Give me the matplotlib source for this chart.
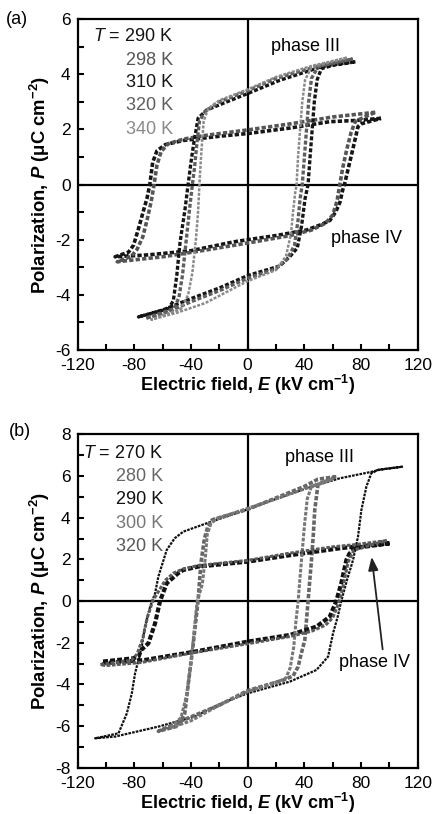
import matplotlib
matplotlib.use("Agg")
import matplotlib.pyplot as plt
from matplotlib.ticker import MultipleLocator

plt.rcParams["font.family"] = ["Liberation Sans", "DejaVu Sans"]
plt.rcParams["axes.unicode_minus"] = False
plt.rcParams["mathtext.fontset"] = "custom"
plt.rcParams["mathtext.rm"] = "Liberation Sans"
plt.rcParams["mathtext.it"] = "Liberation Sans:italic"
plt.rcParams["mathtext.bf"] = "Liberation Sans:bold"
plt.rcParams["mathtext.bfit"] = "Liberation Sans:italic:bold"

# ---- panel (a): hysteresis loops, E (kV/cm) and P (uC/cm2) ----
a_temps = ["290 K", "298 K", "310 K", "320 K", "340 K"]
a_colors = ["#151515", "#555555", "#151515", "#5e5e5e", "#8a8a8a"]

a290_E = [94, 75, 58, 30, 0, -20, -45, -58, -64, -67, -69, -71, -73.5, -77, -80.5, -84, -93.5,
          -70, -40, -10, 0, 20, 41.5, 52, 58, 62, 65, 67, 68.5, 71, 74, 77.8, 80, 94]
a290_P = [2.40, 2.32, 2.28, 2.05, 1.85, 1.75, 1.60, 1.45, 1.22, 0.8, 0.0, -0.5, -0.95, -1.6, -2.2, -2.45, -2.62,
          -2.55, -2.40, -2.08, -2.0, -1.85, -1.65, -1.45, -1.30, -1.0, -0.65, -0.2, 0.05, 0.6, 1.25, 2.1, 2.2, 2.40]

a298_E = [90, 60, 30, 0, -30, -45, -56, -61, -64, -66, -68, -71, -74, -78, -82, -92,
          -60, -30, 0, 30, 45, 55, 60, 63, 65, 67, 70, 73, 76, 90]
a298_P = [2.62, 2.45, 2.2, 1.98, 1.78, 1.65, 1.48, 1.2, 0.7, 0.0, -0.6, -1.3, -1.9, -2.35, -2.6, -2.8,
          -2.62, -2.38, -2.12, -1.85, -1.65, -1.4, -1.1, -0.6, 0.0, 0.6, 1.3, 1.9, 2.3, 2.62]

a310_E = [76, 60, 50.8, 22.7, 0, -17, -29, -35, -38, -40, -42, -44.2, -47.7, -50, -52.4, -55.6, -77,
          -60, -40.7, -20, 0, 22.7, 30, 35, 38, 40.5, 42.6, 44, 45.5, 47, 49, 52, 60, 76]
a310_P = [4.45, 4.35, 4.25, 3.78, 3.3, 2.95, 2.7, 2.4, 1.5, 0.8, 0.0, -0.9, -2.1, -3.3, -4.2, -4.5, -4.8,
          -4.55, -4.15, -3.75, -3.3, -2.95, -2.6, -2.3, -1.5, -0.5, 0.0, 1.0, 2.0, 3.0, 3.8, 4.2, 4.32, 4.45]

a320_E = [74, 50, 20, 0, -20, -30, -34, -36, -37.5, -39, -41, -43.5, -46, -48.5, -52, -72,
          -55, -40, -20, 0, 20, 28, 33, 35.5, 37, 38.5, 40, 41.5, 43, 45, 50, 74]
a320_P = [4.55, 4.3, 3.85, 3.4, 3.0, 2.65, 2.3, 1.4, 0.6, 0.0, -0.9, -2.1, -3.3, -4.1, -4.5, -4.85,
          -4.6, -4.25, -3.85, -3.4, -3.05, -2.7, -2.2, -1.3, -0.5, 0.0, 1.0, 2.0, 3.0, 3.85, 4.3, 4.55]

a340_E = [70, 45, 20, 0, -20, -28, -31, -32.5, -33.5, -34, -35, -36.5, -39, -42, -47, -68,
          -50, -30, 0, 20, 27, 30.5, 32, 33.5, 34.5, 35.5, 37, 38.5, 40.5, 45, 70]
a340_P = [4.6, 4.3, 3.9, 3.45, 3.05, 2.75, 2.3, 1.3, 0.5, 0.0, -1.0, -2.0, -3.2, -4.0, -4.5, -4.9,
          -4.65, -4.3, -3.5, -3.1, -2.6, -1.8, -1.0, -0.3, 0.0, 1.0, 2.0, 3.0, 3.8, 4.25, 4.6]

# ---- panel (b) ----
b_temps = ["270 K", "280 K", "290 K", "300 K", "320 K"]
b_colors = ["#111111", "#666666", "#111111", "#777777", "#5a5a5a"]

b270_E = [109.5, 93, 87.2, 80, 64.9, 41.5, 20, 0, -25.7, -45.4, -51.5, -57.1, -63, -65.3, -68.8, -72.4, -74.7,
          -79.4, -81.7, -85.2, -91.1, -107.6,
          -93.7, -63, -37.4, -18.6, 0, 29.7, 48.5, 56.7, 60.2, 63.5, 66, 70, 74.3, 77.8, 80.2, 83.7, 87.2, 92, 109.5]
b270_P = [6.45, 6.3, 6.2, 6.1, 5.89, 5.41, 4.9, 4.4, 3.81, 3.33, 3.01, 2.45, 1.17, 0.37, -0.27, -1.23, -2.19,
          -3.47, -4.43, -5.39, -6.35, -6.59,
          -6.51, -6.03, -5.55, -4.91, -4.43, -3.87, -3.31, -2.67, -1.55, -0.75, 0.0, 1.0, 1.97, 3.09, 4.37, 5.49, 6.13, 6.3, 6.45]

b280_E = [62.5, 49.6, 40, 20, 0, -25, -28, -30.5, -33, -35, -36.8, -38.6, -40.5, -42.1, -44.4, -49, -63,
          -45, -20, 0, 25, 32, 35.6, 37.5, 40.3, 41.5, 42.6, 43.8, 45, 46.3, 47.3, 49.6, 62.5]
b280_P = [5.97, 5.85, 5.5, 4.95, 4.4, 3.9, 3.6, 3.0, 1.8, 0.0, -1.1, -2.2, -3.2, -4.1, -5.4, -6.0, -6.25,
          -5.7, -5.0, -4.3, -3.8, -3.6, -3.15, -2.6, -1.87, -0.9, 0.0, 1.0, 1.97, 3.2, 4.37, 5.6, 5.97]

b290_E = [100, 74.3, 64.9, 30, 0, -35, -45.4, -49.1, -57.1, -61.8, -65.3, -70, -75, -77, -80.8, -102.8,
          -102, -72.6, -37.4, 0, 29.7, 48.5, 57.9, 62.5, 66, 69.6, 71.9, 76.6, 100]
b290_P = [2.77, 2.6, 2.53, 2.2, 1.89, 1.65, 1.49, 1.33, 0.85, 0.0, -1.07, -2.03, -2.35, -2.67, -2.75, -2.91,
          -2.99, -2.83, -2.43, -1.95, -1.63, -1.23, -0.75, 0.0, 0.85, 1.97, 2.29, 2.55, 2.77]

b300_E = [60, 45, 20, 0, -22, -26, -28.5, -30, -32, -35.6, -38, -40, -43, -47, -55,
          -40, -20, 0, 22, 27, 30, 32.5, 34, 35.6, 37, 38.5, 40, 42, 45, 60]
b300_P = [5.85, 5.5, 4.9, 4.45, 3.95, 3.7, 3.2, 2.0, 0.8, 0.0, -1.6, -3.0, -4.5, -5.6, -6.1,
          -5.75, -5.0, -4.35, -3.85, -3.7, -3.2, -2.2, -1.0, 0.0, 1.2, 2.4, 3.6, 4.9, 5.5, 5.85]

b320_E = [98, 75, 60, 30, 0, -35, -45, -52, -58, -63, -67, -70.8, -74, -78, -82, -104,
          -100, -75, -40, 0, 30, 45, 55, 60, 63, 66, 68.5, 71, 75, 98]
b320_P = [2.9, 2.7, 2.6, 2.3, 1.95, 1.7, 1.55, 1.35, 1.0, 0.45, 0.0, -0.8, -1.8, -2.55, -2.85, -3.05,
          -3.1, -2.95, -2.5, -2.05, -1.7, -1.45, -1.15, -0.8, -0.3, 0.3, 1.1, 1.9, 2.45, 2.9]

a_loops = [(a290_E, a290_P), (a298_E, a298_P), (a310_E, a310_P), (a320_E, a320_P), (a340_E, a340_P)]
b_loops = [(b270_E, b270_P), (b280_E, b280_P), (b290_E, b290_P), (b300_E, b300_P), (b320_E, b320_P)]
a_widths = [2.6, 2.6, 2.4, 2.4, 1.8]
b_widths = [1.6, 2.6, 3.0, 2.2, 2.2]

fig = plt.figure(figsize=(4.33, 8.14), dpi=100)
ax_a = fig.add_axes([0.179, 0.570, 0.786, 0.4066])
ax_b = fig.add_axes([0.179, 0.0569, 0.786, 0.4095])


def style_axes(ax, ylim, ymajor):
    ax.set_xlim(-120, 120)
    ax.set_ylim(*ylim)
    ax.xaxis.set_major_locator(MultipleLocator(40))
    ax.xaxis.set_minor_locator(MultipleLocator(20))
    ax.yaxis.set_major_locator(MultipleLocator(ymajor))
    ax.yaxis.set_minor_locator(MultipleLocator(1))
    ax.tick_params(which="both", direction="in", top=False, right=False,
                   length=4.5, width=1.5, labelsize=12.5)
    ax.tick_params(axis="x", pad=6)
    ax.tick_params(axis="y", pad=5)
    for s in ax.spines.values():
        s.set_linewidth(1.6)
    ax.axhline(0, color="black", lw=1.6, zorder=1)
    ax.axvline(0, color="black", lw=1.6, zorder=1)
    ax.set_xlabel(r"Electric field, $\mathbfit{E}$ (kV cm$^{\mathbf{-1}}$)",
                  fontsize=13, fontweight="bold", labelpad=0)
    ax.set_ylabel(r"Polarization, $\mathbfit{P}$ (μC cm$^{\mathbf{-2}}$)",
                  fontsize=13.3, fontweight="bold", labelpad=2)


style_axes(ax_a, (-6, 6), 2)
style_axes(ax_b, (-8, 8), 2)

for (E, P), c, w in zip(a_loops, a_colors, a_widths):
    ax_a.plot(E, P, color=c, lw=w, ls=(0, (1.2, 0.6)), zorder=3)
for (E, P), c, w in zip(b_loops, b_colors, b_widths):
    ax_b.plot(E, P, color=c, lw=w, ls=(0, (1.2, 0.5)), zorder=3)

# temperature lists
a_ypos = [5.38, 4.51, 3.69, 2.85, 2.0]
for i, (t, c, y) in enumerate(zip(a_temps, a_colors, a_ypos)):
    label = r"$T$ = " + t if i == 0 else t
    ax_a.text(-52.5, y, label, color=c, fontsize=13, ha="right", va="center")
b_ypos = [7.09, 5.97, 4.85, 3.73, 2.61]
for i, (t, c, y) in enumerate(zip(b_temps, b_colors, b_ypos)):
    label = r"$T$ = " + t if i == 0 else t
    ax_b.text(-59.5, y, label, color=c, fontsize=13, ha="right", va="center")

ax_a.text(40.5, 5.0, "phase III", fontsize=13, ha="center", va="center")
ax_a.text(83.5, -1.95, "phase IV", fontsize=13, ha="center", va="center")
ax_b.text(51, 6.9, "phase III", fontsize=13, ha="center", va="center")
ax_b.text(89.5, -2.95, "phase IV", fontsize=13, ha="center", va="center")
ax_b.annotate("", xy=(87.2, 2.25), xytext=(95.4, -2.45),
              arrowprops=dict(arrowstyle="-|>,head_length=0.8,head_width=0.3",
                              color="#222222", lw=1.3))

fig.text(17 / 433, 1 - 19 / 814, "(a)", fontsize=13, ha="center", va="center")
fig.text(20 / 433, 1 - 432 / 814, "(b)", fontsize=13, ha="center", va="center")

fig.savefig("out.png", dpi=100)
